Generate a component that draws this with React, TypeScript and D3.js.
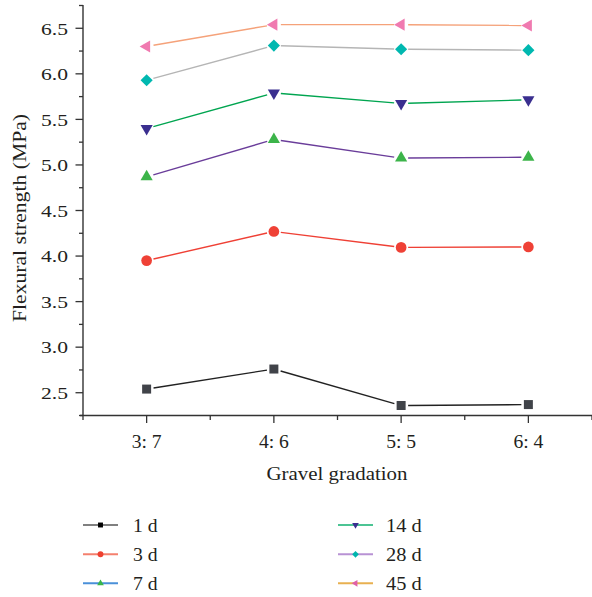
import React from "react";
import * as d3 from "d3";

const categories = ["3: 7", "4: 6", "5: 5", "6: 4"];
const seriesNames = ["1 d", "3 d", "7 d", "14 d", "28 d", "45 d"];
const values1d = [2.54, 2.76, 2.36, 2.37];
const values3d = [3.95, 4.27, 4.095, 4.1];
const values7d = [4.87, 5.28, 5.075, 5.085];
const values14d = [5.4, 5.79, 5.675, 5.715];
const values28d = [5.93, 6.31, 6.27, 6.26];
const values45d = [6.3, 6.54, 6.54, 6.53];
const yTickValues = [2.5, 3.0, 3.5, 4.0, 4.5, 5.0, 5.5, 6.0, 6.5];
const yTickLabels = ["2.5", "3.0", "3.5", "4.0", "4.5", "5.0", "5.5", "6.0", "6.5"];

const allValues = [values1d, values3d, values7d, values14d, values28d, values45d];
const lineColors = ["#222222", "#ef4035", "#6a3d9a", "#00a550", "#b5b5b5", "#f5a27a"];
const markerColors = ["#404349", "#ef4136", "#3cb44a", "#3a2f8f", "#00b8b0", "#f07ab0"];
const legendLineColors = ["#808080", "#f4806e", "#4a90d9", "#4cc494", "#b892d4", "#e8b050"];
const legendMarkerColors = ["#000000", "#ee4030", "#39b54a", "#3a2f8f", "#00b5ad", "#e060a8"];

const symbolTypes = [d3.symbolSquare, d3.symbolCircle, d3.symbolTriangle, d3.symbolTriangle, d3.symbolSquare, d3.symbolTriangle];
const symbolRot = [0, 0, 0, 180, 45, -90];
const symbolSizes = [81, 90, 64, 64, 74, 64];

const FONT = "'Liberation Serif', 'Times New Roman', serif";

export default function App() {
  const W = 592, H = 597;
  const x = d3.scaleLinear().domain([0.5, 4.5]).range([83, 592]);
  const y = d3.scaleLinear().domain([2.25, 6.75]).range([415.5, 5.5]);
  const axisColor = "#333";
  const minorY = d3.range(2.25, 6.76, 0.5);
  const minorX = [0.5, 1.5, 2.5, 3.5, 4.5];
  const gap = 7;

  const segs = (vals: number[]) => {
    const out: { x1: number; y1: number; x2: number; y2: number }[] = [];
    for (let i = 0; i < vals.length - 1; i++) {
      const ax = x(i + 1), ay = y(vals[i]), bx = x(i + 2), by = y(vals[i + 1]);
      const dx = bx - ax, dy = by - ay;
      const len = Math.hypot(dx, dy);
      const ux = dx / len, uy = dy / len;
      out.push({ x1: ax + ux * gap, y1: ay + uy * gap, x2: bx - ux * gap, y2: by - uy * gap });
    }
    return out;
  };

  const legendPos = seriesNames.map((_, i) => ({
    lx: i < 3 ? 83 : 338,
    tx: i < 3 ? 133 : 386,
    y: [525, 554.3, 583.3][i % 3],
  }));

  return (
    <svg width={W} height={H} style={{ display: "block", position: "absolute", left: 0, top: 0 }} fontFamily={FONT}>
      <rect width={W} height={H} fill="#fff" />
      <line x1={83} x2={83} y1={5} y2={416} stroke={axisColor} strokeWidth={1.4} />
      <line x1={80} x2={592} y1={415.5} y2={415.5} stroke={axisColor} strokeWidth={1.4} />
      {yTickValues.map((v, i) => (
        <g key={"yt" + i}>
          <line x1={75.5} x2={83} y1={y(v)} y2={y(v)} stroke={axisColor} strokeWidth={1.3} />
          <text x={68} y={y(v)} dy="0.36em" textAnchor="end" fontSize={17.5} fill="#231f20" textLength={27} lengthAdjust="spacingAndGlyphs">
            {yTickLabels[i]}
          </text>
        </g>
      ))}
      {minorY.map((v, i) => (
        <line key={"ym" + i} x1={79} x2={83} y1={y(v)} y2={y(v)} stroke={axisColor} strokeWidth={1.3} />
      ))}
      {categories.map((c, i) => (
        <g key={"xt" + i}>
          <line x1={x(i + 1)} x2={x(i + 1)} y1={415.5} y2={423} stroke={axisColor} strokeWidth={1.3} />
          <text x={x(i + 1)} y={447.5} textAnchor="middle" fontSize={18} fill="#231f20" textLength={30} lengthAdjust="spacingAndGlyphs">
            {c}
          </text>
        </g>
      ))}
      {minorX.map((v, i) => (
        <line key={"xm" + i} x1={x(v)} x2={x(v)} y1={415.5} y2={420} stroke={axisColor} strokeWidth={1.3} />
      ))}
      <text x={337} y={480} textAnchor="middle" fontSize={19.5} fill="#231f20" textLength={141} lengthAdjust="spacingAndGlyphs">
        Gravel gradation
      </text>
      <text transform="translate(26,218) rotate(-90)" textAnchor="middle" fontSize={19.5} fill="#231f20" textLength={208} lengthAdjust="spacingAndGlyphs">
        Flexural strength (MPa)
      </text>
      {allValues.map((vals, si) => (
        <g key={"s" + si}>
          {segs(vals).map((s, k) => (
            <line key={k} x1={s.x1} y1={s.y1} x2={s.x2} y2={s.y2} stroke={lineColors[si]} strokeWidth={1.4} />
          ))}
          {vals.map((v, k) => (
            <path
              key={"m" + k}
              d={d3.symbol().type(symbolTypes[si]).size(symbolSizes[si])() || ""}
              transform={`translate(${x(k + 1)},${y(v)}) rotate(${symbolRot[si]})`}
              fill={markerColors[si]}
            />
          ))}
        </g>
      ))}
      {seriesNames.map((n, i) => {
        const p = legendPos[i];
        return (
          <g key={"lg" + i}>
            <line x1={p.lx} x2={p.lx + 35} y1={p.y} y2={p.y} stroke={legendLineColors[i]} strokeWidth={2} />
            <path
              d={d3.symbol().type(symbolTypes[i]).size(symbolSizes[i] * 0.3)() || ""}
              transform={`translate(${p.lx + 17.5},${p.y}) rotate(${symbolRot[i]})`}
              fill={legendMarkerColors[i]}
            />
            <text x={p.tx} y={p.y} dy="0.36em" fontSize={19} fill="#231f20" textLength={i < 3 ? 24.6 : 35.7} lengthAdjust="spacingAndGlyphs">
              {n}
            </text>
          </g>
        );
      })}
    </svg>
  );
}
